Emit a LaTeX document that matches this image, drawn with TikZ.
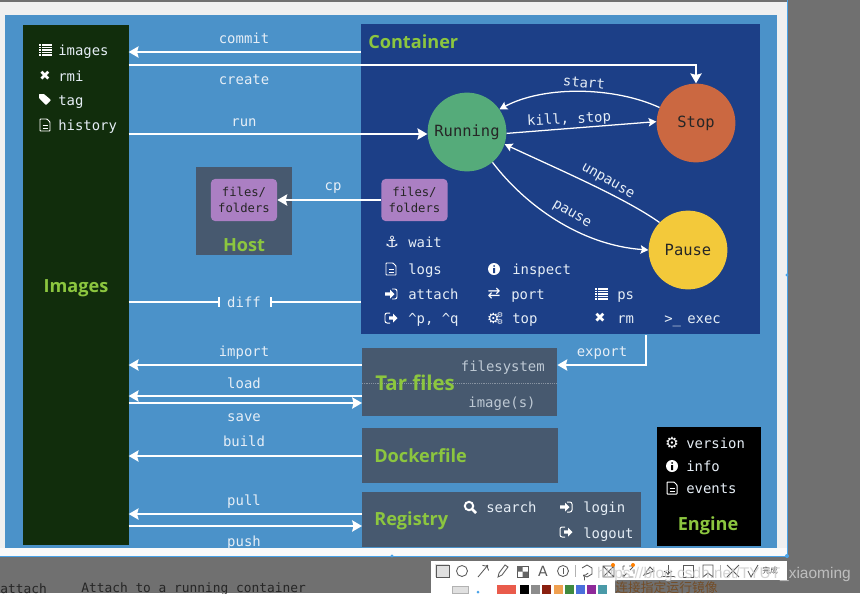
\documentclass[tikz,border=0pt]{standalone}
\usepackage{fontspec}
\usepackage{tikz}
\usetikzlibrary{arrows.meta}
\setmainfont{DejaVu Sans Mono}
\newfontfamily\titlefont{Open Sans}
\newfontfamily\symfont{DejaVu Sans}
\newfontfamily\markfont{Liberation Sans}
\newfontfamily\cjkfont{Noto Sans CJK SC}
\definecolor{bgblue}{HTML}{4B92C9}
\definecolor{imagesgreen}{HTML}{112D0C}
\definecolor{containerblue}{HTML}{1C3F87}
\definecolor{slatebox}{HTML}{47596F}
\definecolor{titlegreen}{HTML}{8CC63F}
\definecolor{filespurple}{HTML}{AB7FC3}
\definecolor{runninggreen}{HTML}{55AB7A}
\definecolor{stopred}{HTML}{CB6841}
\definecolor{pauseyellow}{HTML}{F3C93A}
\definecolor{linetext}{HTML}{E6EEF6}
\definecolor{selectblue}{HTML}{4AA3E8}
\definecolor{swatchred}{HTML}{E95B4B}
\definecolor{swatchgray}{HTML}{8C8C8C}
\definecolor{swatchmaroon}{HTML}{8A2010}
\definecolor{swatchorange}{HTML}{F0A050}
\definecolor{swatchgreen}{HTML}{3F8A3F}
\definecolor{swatchblue}{HTML}{4A70DC}
\definecolor{swatchpurple}{HTML}{8E2A9A}
\definecolor{swatchteal}{HTML}{4A9AA8}
\tikzset{
  panel/.style={anchor=north west,inner sep=0pt,outer sep=0pt,minimum width=#1},
  boxtitle/.style={text=titlegreen,font=\titlefont\bfseries\fontsize{12.9}{16}\selectfont,inner sep=0pt},
  cmd/.style={text=linetext,anchor=west,inner sep=0pt,text height=8.8pt,text depth=1pt,font=\fontsize{9.9}{11}\selectfont},
  arrowlabel/.style={text=linetext,inner sep=0pt,text height=8.8pt,text depth=1pt,font=\fontsize{9.9}{11}\selectfont},
  glyph/.style={text=white,inner sep=0pt,font=\symfont\fontsize{9.5}{11}\selectfont},
  state/.style={circle,minimum size=79*0.709pt,inner sep=0pt,text=black!85,font=\fontsize{11}{13}\selectfont},
  filesbox/.style={fill=filespurple,rounded corners=3pt,minimum width=47pt,minimum height=30pt,inner sep=0pt,align=center,text=black!85,font=\fontsize{8.7}{11}\selectfont},
  wire/.style={draw=white,line width=1.42pt,-{Stealth[length=7pt,width=8pt,inset=1pt]}},
  thinwire/.style={draw=white,line width=0.9pt,-{Stealth[length=5.5pt,width=6pt,inset=1pt]}},
  barwire/.style={draw=white,line width=1.42pt,-{Bar[width=7pt]}},
  iconline/.style={draw=white,line width=0.7pt},
  toolicon/.style={draw=black!65,line width=0.6pt},
  swatch/.style={minimum width=6.4pt,minimum height=12pt,inner sep=0pt,anchor=north west},
  pics/icondoc/.style={code={
    \draw[iconline,rounded corners=0.4pt] (-5,-6) -- (2,-6) -- (5,-3) -- (5,6) -- (-5,6) -- cycle;
    \draw[iconline,line width=0.5pt] (-2.5,0) -- (2.5,0) (-2.5,3) -- (2.5,3);}},
  pics/iconinfo/.style={code={
    \fill[white] (0,0) circle (6);
    \fill[#1] (0,-3) circle (1) (-1,-1) rectangle (1,4);}},
  pics/icontag/.style={code={
    \fill[white,rounded corners=0.5pt] (-6,-5) -- (-1,-5) -- (6,1) -- (1,6) -- (-6,-1) -- cycle;}},
  pics/iconin/.style={code={
    \draw[iconline,rounded corners=1.5pt] (1,-5) -- (6,-5) -- (6,5) -- (1,5);
    \fill[white] (-6,-1.7) -- (-1,-1.7) -- (-1,-4.5) -- (3.5,0) -- (-1,4.5) -- (-1,1.7) -- (-6,1.7) -- cycle;}},
  pics/iconout/.style={code={
    \draw[iconline,rounded corners=1.5pt] (-1,-5) -- (-6,-5) -- (-6,5) -- (-1,5);
    \fill[white] (-2,-1.7) -- (2,-1.7) -- (2,-4.5) -- (6.5,0) -- (2,4.5) -- (2,1.7) -- (-2,1.7) -- cycle;}},
  pics/iconsearch/.style={code={
    \draw[white,line width=1.4pt] (-1,-1) circle (4.2);
    \draw[white,line width=1.9pt] (2,2) -- (6,6);}},
  pics/iconlist/.style={code={
    \foreach \r in {-5,-2.5,0,2.5,5} {\fill[white] (-6.5,\r-0.9) rectangle (-4,\r+0.9);\fill[white] (-3,\r-0.9) rectangle (6.5,\r+0.9);}}},
  pics/icongears/.style={code={
    \node[glyph] (gearbig) at (-1.5,0.5) {\fontsize{10}{11}\selectfont ⚙};
    \node[glyph] (gearone) at (5,-3.5) {\fontsize{5}{6}\selectfont ⚙};
    \node[glyph] (geartwo) at (5,3.5) {\fontsize{5}{6}\selectfont ⚙};}},
}
\begin{document}
\begin{tikzpicture}[x=0.025cm,y=-0.025cm]
  \useasboundingbox (0,0) rectangle (860,593);
  \clip (0,0) rectangle (860,593);
  \fill[black!56] (0,0) rectangle (860,593);
  \fill[black!6] (0,2) rectangle (787,556);
  \fill[white!98!black] (0,548) rectangle (787,556);
  \fill[bgblue] (5,15) rectangle (777,548);
  \draw[selectblue,line width=0.6pt] (787,0) -- (787,556) -- (0,556);
  \fill[selectblue] (787,275) circle (1.7) (392,556) circle (1.7) (787,556) circle (2);

  \node[panel=106*0.709pt,minimum height=522*0.709pt,fill=imagesgreen] (images) at (23,25) {};
  \node[panel=400.5*0.709pt,minimum height=311*0.709pt,fill=containerblue] (container) at (360.5,24) {};
  \node[panel=96*0.709pt,minimum height=88*0.709pt,fill=slatebox] (host) at (196,167) {};
  \node[panel=196*0.709pt,minimum height=68*0.709pt,fill=slatebox] (tarfiles) at (362,348) {};
  \node[panel=197*0.709pt,minimum height=55*0.709pt,fill=slatebox] (dockerfile) at (362,428) {};
  \node[panel=280*0.709pt,minimum height=55*0.709pt,fill=slatebox] (registry) at (362,492) {};
  \node[panel=104*0.709pt,minimum height=119*0.709pt,fill=black] (engine) at (657,427) {};
  \draw[densely dotted,white!35!slatebox,line width=0.3pt] (tarfiles.west |- 0,383) -- (tarfiles.east |- 0,383);

  \node[boxtitle] (imagestitle) at (76,288) {Images};
  \node[boxtitle,anchor=west] (containertitle) at (368,42) {Container};
  \node[boxtitle] (hosttitle) at (244,245) {Host};
  \node[boxtitle,anchor=west,font=\titlefont\bfseries\fontsize{14.5}{16}\selectfont] (tartitle) at (375,383) {Tar files};
  \node[boxtitle,anchor=west] (dockertitle) at (374,456) {Dockerfile};
  \node[boxtitle,anchor=west] (registrytitle) at (374,521) {Registry};
  \node[boxtitle] (enginetitle) at (708,526) {Engine};

  \node[state,fill=runninggreen] (running) at (467,132) {Running};
  \node[state,fill=stopred] (stop) at (696,123) {Stop};
  \node[state,fill=pauseyellow] (pause) at (688,250) {Pause};
  \node[filesbox] (hostfiles) at (244,200) {files/\\folders};
  \node[filesbox] (containerfiles) at (414.5,200) {files/\\folders};

  \draw[wire] (container.west |- 0,52) -- (images.east |- 0,52);
  \draw[wire] (images.east |- 0,65) -- (stop.north |- 0,65) -- (stop.north);
  \draw[wire] (images.east |- 0,134) -- (running.west |- 0,134);
  \draw[wire] (containerfiles.west) -- (hostfiles.east);
  \draw[barwire] (images.east |- 0,302) -- (220,302);
  \draw[barwire] (container.west |- 0,302) -- (270,302);
  \draw[wire] (tarfiles.west |- 0,365) -- (images.east |- 0,365);
  \draw[wire] (tarfiles.west |- 0,396) -- (images.east |- 0,396);
  \draw[wire] (images.east |- 0,403) -- (tarfiles.west |- 0,403);
  \draw[wire] (dockerfile.west |- 0,456) -- (images.east |- 0,456);
  \draw[wire] (registry.west |- 0,514) -- (images.east |- 0,514);
  \draw[wire] (images.east |- 0,526) -- (registry.west |- 0,526);
  \draw[wire] (646,335) -- (646,365) -- (tarfiles.east |- 0,365);

  \draw[thinwire] (stop.157) .. controls (615,87) and (545,85) .. (running.35);
  \draw[thinwire] (running.-2) -- (stop.178);
  \draw[thinwire] (pause.136) .. controls (625,198) and (560,170) .. (running.-18);
  \draw[thinwire] (running.-50) .. controls (525,205) and (580,245) .. (pause.180);

  \node[arrowlabel] (commitlabel) at (244,38) {commit};
  \node[arrowlabel] (createlabel) at (244,79) {create};
  \node[arrowlabel] (runlabel) at (244,121) {run};
  \node[arrowlabel] (cplabel) at (333,185) {cp};
  \node[arrowlabel] (difflabel) at (244,302) {diff};
  \node[arrowlabel] (importlabel) at (244,351) {import};
  \node[arrowlabel] (loadlabel) at (244,383) {load};
  \node[arrowlabel] (savelabel) at (244,416) {save};
  \node[arrowlabel] (buildlabel) at (244,441) {build};
  \node[arrowlabel] (pulllabel) at (244,500) {pull};
  \node[arrowlabel] (pushlabel) at (244,541) {push};
  \node[arrowlabel] (exportlabel) at (602,351) {export};
  \node[arrowlabel,rotate=-5] (startlabel) at (584,82) {start};
  \node[arrowlabel,rotate=3] (killlabel) at (569,118) {kill, stop};
  \node[arrowlabel,rotate=-30] (unpauselabel) at (609,179) {unpause};
  \node[arrowlabel,rotate=-30] (pauselabel) at (573,212) {pause};

  \foreach \nm/\ypos in {images/50,rmi/76,tag/100,history/125}
    \node[cmd] (cmd\nm) at (58,\ypos) {\nm};
  \pic at (45,50) {iconlist};
  \node[glyph] (rmiicon) at (45,76) {✖};
  \pic at (45,99) {icontag};
  \pic at (45,125) {icondoc};

  \foreach \nm/\xpos/\ypos in {wait/408/242,logs/408/269,attach/408/294,inspect/512/269,port/511/294,top/512/318,ps/617/294,rm/617/318,exec/687/318}
    \node[cmd] (cmd\nm) at (\xpos,\ypos) {\nm};
  \node[cmd] (cmdpq) at (408,318) {\^{}p, \^{}q};
  \node[glyph,font=\symfont\fontsize{11}{12}\selectfont] (waiticon) at (392,242) {⚓};
  \pic at (391,269) {icondoc};
  \pic at (391,294) {iconin};
  \pic at (391,318) {iconout};
  \pic at (494,269) {iconinfo=containerblue};
  \node[glyph,font=\symfont\fontsize{11}{12}\selectfont] (porticon) at (494,294) {⇄};
  \pic at (495,318) {icongears};
  \pic at (601,294) {iconlist};
  \node[glyph] (rmicon) at (600,318) {✖};
  \node[cmd] (execicon) at (664,318) {>\_};

  \node[arrowlabel,anchor=east,text=linetext!75!slatebox] (filesystemtext) at (545,366) {filesystem};
  \node[arrowlabel,text=linetext!75!slatebox] (imagetext) at (502,402) {image(s)};

  \pic at (470,507) {iconsearch};
  \node[cmd] (cmdsearch) at (486,507) {search};
  \pic at (566,507) {iconin};
  \node[cmd] (cmdlogin) at (583,507) {login};
  \pic at (566,532) {iconout};
  \node[cmd] (cmdlogout) at (583,533) {logout};

  \node[glyph,font=\symfont\fontsize{11}{12}\selectfont] (versionicon) at (672,443) {⚙};
  \node[cmd] (cmdversion) at (686,443) {version};
  \pic at (672,466) {iconinfo=black};
  \node[cmd] (cmdinfo) at (686,466) {info};
  \pic at (672,488) {icondoc};
  \node[cmd] (cmdevents) at (686,488) {events};

  \node[anchor=west,inner sep=0pt,text=black!85,font=\fontsize{9.15}{11}\selectfont] (attachrow) at (0,589) {attach};
  \node[anchor=west,inner sep=0pt,text=black!85,font=\fontsize{9.15}{11}\selectfont] (attachtext) at (81,589) {Attach to a running container};

  \fill[white] (431,561) rectangle (787,580);
  \fill[white] (431,580) rectangle (615,593);
  \fill[black!12] (435,564) rectangle (449,577);
  \draw[toolicon] (436,565) rectangle (449,577);
  \draw[toolicon] (462,571) circle (5.5);
  \draw[toolicon,->] (478,577) -- (488,565);
  \draw[toolicon] (498,577) -- (499,573) -- (505,565) -- (508,567) -- (502,575) -- cycle;
  \draw[toolicon] (517,566) rectangle (528,577);
  \fill[black!60] (517,566) rectangle (522.5,571.5) (522.5,571.5) rectangle (528,577);
  \node[inner sep=0pt,text=black!65,font=\symfont\fontsize{10}{11}\selectfont] (texttool) at (543,571) {A};
  \draw[toolicon] (563,571) circle (5.5);
  \draw[toolicon] (563,568) -- (563,574);
  \draw[toolicon,black!30] (575,565) -- (575,577);
  \draw[toolicon,->] (582,568) -- (587,565) -- (592,568) -- (592,574) -- (587,577) -- (583,575);
  \draw[toolicon] (603,566) rectangle (614,577) (603,577) -- (614,566) (603,566) -- (614,577);
  \fill[orange] (613,565) circle (2);
  \draw[toolicon,dashed] (623,566) rectangle (634,577) (624,576) -- (633,567);
  \fill[orange] (633,565) circle (2);
  \draw[toolicon] (644,575) -- (650,567) -- (654,571) -- cycle;
  \draw[toolicon,->] (668,565) -- (668,575);
  \draw[toolicon] (661,576) -- (675,576);
  \draw[toolicon] (683,565) rectangle (693,577);
  \draw[toolicon] (703,565) -- (713,565) -- (713,577) -- (708,573) -- (703,577) -- cycle;
  \draw[toolicon,black!30] (720,565) -- (720,577);
  \draw[toolicon] (727,565) -- (739,577) (739,565) -- (727,577);
  \draw[toolicon] (748,571) -- (751,577) -- (758,565);
  \node[inner sep=0pt,text=black!70,font=\cjkfont\fontsize{5.5}{7}\selectfont] (donetext) at (770,571) {完成};

  \fill[black!12] (452,586) rectangle (468,593);
  \draw[black!30,line width=0.4pt] (452,586) rectangle (468,593);
  \fill[selectblue] (478,592) circle (1.5);
  \node[swatch,minimum width=13.5pt,fill=swatchred] (redswatch) at (497,584.5) {};
  \foreach \hue/\xpos in {black/520,swatchgray/531,swatchmaroon/542,swatchorange/554,swatchgreen/565,swatchblue/576,swatchpurple/587,swatchteal/598}
    \node[swatch,fill=\hue] (swatch\xpos) at (\xpos,584.5) {};

  \node[anchor=west,inner sep=0pt,text=brown!60!black,font=\cjkfont\fontsize{9.1}{11}\selectfont] (chinesetext) at (615,588) {连接指定运行镜像};
  \node[anchor=east,inner sep=0pt,text=black!20,opacity=0.85,font=\markfont\fontsize{11}{13}\selectfont] (watermark) at (851,574) {https://blog.csdn.net/TYUT\_xiaoming};
\end{tikzpicture}
\end{document}
